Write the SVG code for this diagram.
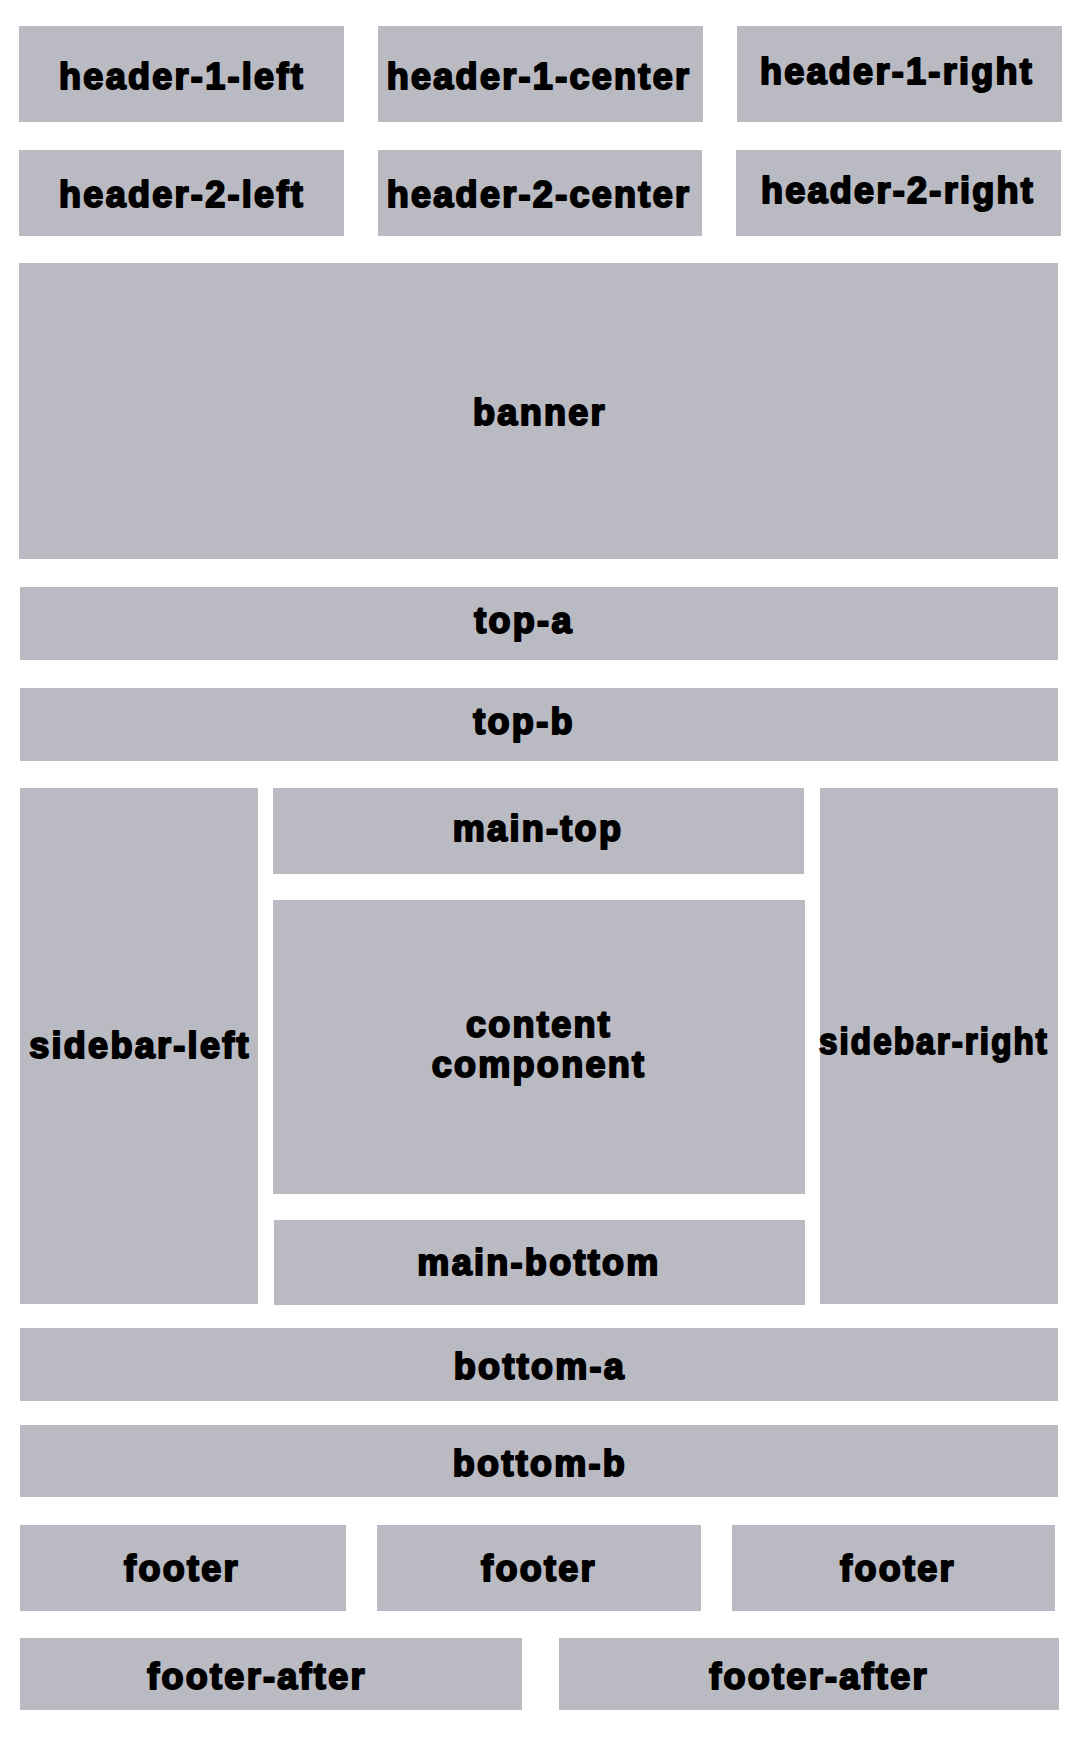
<svg xmlns="http://www.w3.org/2000/svg" width="1080" height="1748" viewBox="0 0 1080 1748">
<style>
.box{fill:#babac3;}
.lbl{font-family:"Liberation Sans",Arial,sans-serif;font-weight:bold;font-size:36px;letter-spacing:2.3px;fill:#000;stroke:#000;stroke-width:2px;stroke-linejoin:round;text-anchor:middle;}
</style>
<rect width="1080" height="1748" fill="#ffffff"/>
<g id="header-1-left"><rect class="box" x="19" y="26" width="325" height="96"/><text class="lbl" x="182" y="88.5">header-1-left</text></g>
<g id="header-1-center"><rect class="box" x="378" y="26" width="325" height="96"/><text class="lbl" x="539" y="88.5">header-1-center</text></g>
<g id="header-1-right"><rect class="box" x="737" y="26" width="325" height="96"/><text class="lbl" x="897" y="84">header-1-right</text></g>
<g id="header-2-left"><rect class="box" x="19" y="150" width="325" height="86"/><text class="lbl" x="182" y="206.5">header-2-left</text></g>
<g id="header-2-center"><rect class="box" x="378" y="150" width="324" height="86"/><text class="lbl" x="539" y="206.5">header-2-center</text></g>
<g id="header-2-right"><rect class="box" x="736" y="150" width="325" height="86"/><text class="lbl" x="898" y="203">header-2-right</text></g>
<g id="banner"><rect class="box" x="19" y="263" width="1039" height="296"/><text class="lbl" x="540" y="424.5">banner</text></g>
<g id="top-a"><rect class="box" x="20" y="587" width="1038" height="73"/><text class="lbl" x="524" y="633">top-a</text></g>
<g id="top-b"><rect class="box" x="20" y="688" width="1038" height="73"/><text class="lbl" x="524" y="734">top-b</text></g>
<g id="sidebar-left"><rect class="box" x="20" y="788" width="238" height="516"/><text class="lbl" x="140" y="1057.5">sidebar-left</text></g>
<g id="main-top"><rect class="box" x="273" y="788" width="531" height="86"/><text class="lbl" x="538" y="840.5">main-top</text></g>
<g id="content-component"><rect class="box" x="273" y="900" width="532" height="294"/><text class="lbl" x="539" y="1036.5">content</text><text class="lbl" x="539" y="1076.5">component</text></g>
<g id="main-bottom"><rect class="box" x="274" y="1220" width="531" height="85"/><text class="lbl" x="539" y="1274.5">main-bottom</text></g>
<g id="sidebar-right"><rect class="box" x="820" y="788" width="238" height="516"/><text class="lbl" x="934" y="1054" textLength="230" lengthAdjust="spacingAndGlyphs">sidebar-right</text></g>
<g id="bottom-a"><rect class="box" x="20" y="1328" width="1038" height="73"/><text class="lbl" x="540" y="1378.5">bottom-a</text></g>
<g id="bottom-b"><rect class="box" x="20" y="1425" width="1038" height="72"/><text class="lbl" x="540" y="1475.5">bottom-b</text></g>
<g id="footer-1"><rect class="box" x="20" y="1525" width="326" height="86"/><text class="lbl" x="182" y="1580.5">footer</text></g>
<g id="footer-2"><rect class="box" x="377" y="1525" width="324" height="86"/><text class="lbl" x="539" y="1580.5">footer</text></g>
<g id="footer-3"><rect class="box" x="732" y="1525" width="323" height="86"/><text class="lbl" x="898" y="1580.5">footer</text></g>
<g id="footer-after-1"><rect class="box" x="20" y="1638" width="502" height="72"/><text class="lbl" x="257" y="1688.5">footer-after</text></g>
<g id="footer-after-2"><rect class="box" x="559" y="1638" width="500" height="72"/><text class="lbl" x="819" y="1688.5">footer-after</text></g>
<g id="connectors"></g>
</svg>
